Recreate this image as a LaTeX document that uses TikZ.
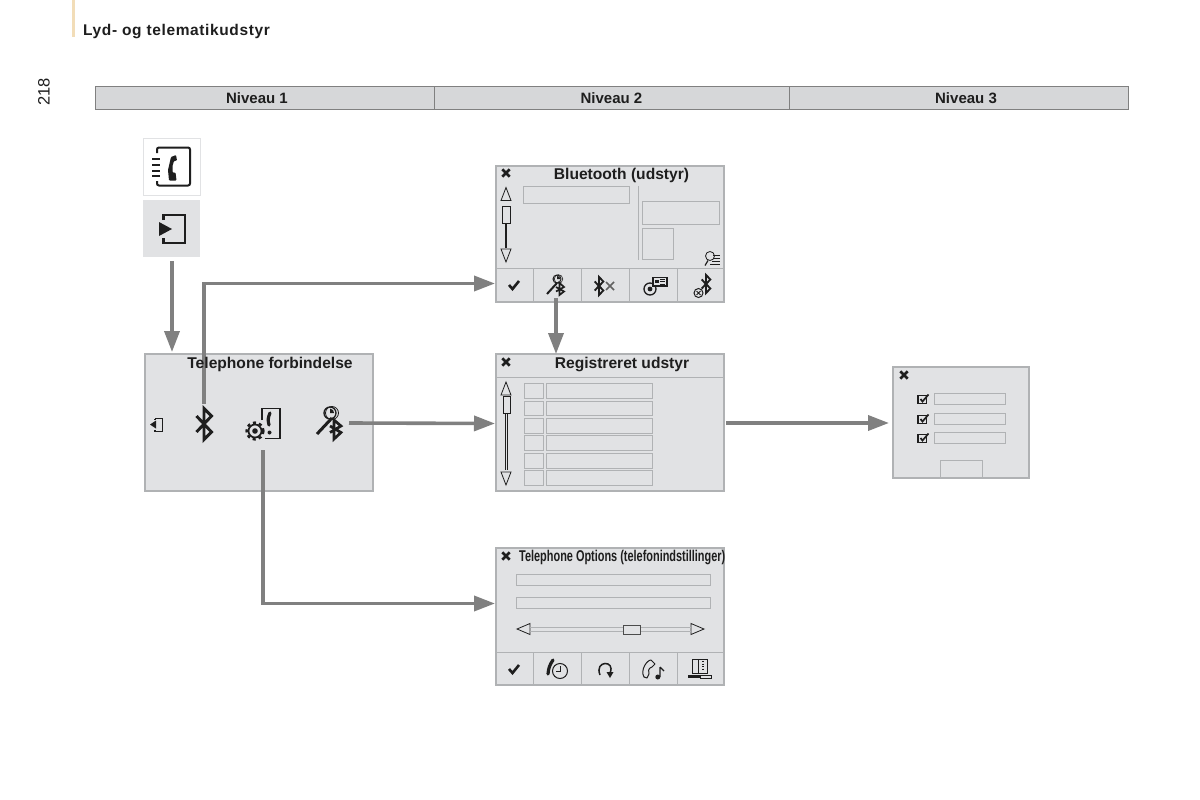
\documentclass[tikz,border=0pt]{standalone}
\usepackage{fontspec}
\usepackage{graphicx}
\setmainfont{Liberation Sans}
\usetikzlibrary{arrows.meta}
\definecolor{panel}{HTML}{E1E2E4}
\definecolor{edge}{HTML}{B0B2B4}
\definecolor{flow}{HTML}{808080}
\definecolor{ink}{HTML}{1E1E1E}
\definecolor{tan}{HTML}{F2DDB8}
\tikzset{
  x=1pt,y=-1pt,
  screen/.style={draw=edge,fill=panel,line width=1.1pt},
  field/.style={draw=edge,line width=1pt},
  thinink/.style={draw=ink,line width=.8pt},
  sep/.style={draw=edge,line width=1pt},
  flowline/.style={draw=flow,line width=3.6pt,-{Triangle[length=21pt,width=15pt]}},
  ttl/.style={font=\bfseries\fontsize{15.6}{18}\selectfont,text=ink,inner sep=0pt,anchor=base},
  hdr/.style={font=\bfseries\fontsize{15}{18}\selectfont,text=ink,inner sep=0pt,anchor=base},
  btrune/.pic={\draw[ink,line width=2.9pt,line join=miter] (-7.5,-8)--(7.5,8)--(0,15.5)--(0,-15.5)--(7.5,-8)--(-7.5,8);},
  smallrune/.pic={\draw[ink,line width=1.9pt,line join=miter] (-4.3,-4.5)--(4.3,4.5)--(0,9)--(0,-9)--(4.3,-4.5)--(-4.3,4.5);},
  closex/.pic={\draw[ink,line width=2.6pt] (-3.7,-3.7)--(3.7,3.7) (-3.7,3.7)--(3.7,-3.7);},
  tick/.pic={\draw[ink,line width=2.6pt] (-5,0)--(-1.5,4)--(5,-4);},
  keybt/.pic={
    \draw[ink,line width=3pt] (-12,11)--(3,-5);
    \draw[ink,line width=1.3pt] (1,-10) circle (6);
    \draw[ink,line width=.8pt] (3,-10) circle (6.5);
    \fill[ink] (1,-10)--(1,-14.5)--(4,-13)--(5,-10)--cycle;
    \draw[ink,line width=2.7pt] (1,3)--(12,9.5)--(5,16)--(5,-3)--(12,3)--(1,9.5);
  },
  smallkey/.pic={
    \draw[ink,line width=2pt] (-9,9)--(1,-2);
    \draw[ink,line width=1pt] (1,-6) circle (4);
    \draw[ink,line width=.6pt] (2.5,-6) circle (4.3);
    \fill[ink] (1,-6)--(1,-9)--(3.5,-8)--(4,-6)--cycle;
    \draw[ink,line width=1.7pt] (0,2)--(8,6.5)--(3.5,10)--(3.5,-2)--(8,2)--(0,6.5);
  },
  upt/.pic={\draw[thinink] (0,-6.5)--(5,6.5)--(-5,6.5)--cycle;},
  downt/.pic={\draw[thinink] (0,6.5)--(5,-6.5)--(-5,-6.5)--cycle;},
  checkbox/.pic={
    \draw[ink,line width=1.5pt] (-5,-3.5)--(-5,4.5)--(3.5,4.5)--(3.5,-3.5)--cycle;
    \draw[ink,line width=1.7pt] (-2.5,0)--(-.5,2.5)--(5.5,-4.5);
  },
  gearbook/.pic={
    \draw[ink,line width=1.7pt] (-8,7) circle (6.5);
    \draw[ink,line width=2.4pt,dash pattern=on 3.1pt off 3.1pt] (-8,7) circle (8.4);
    \fill[ink] (-8,7) circle (2.8);
    \draw[ink,line width=1.8pt] (-1,-4)--(-1,-15.5)--(17,-15.5)--(17,14.5)--(2,14.5);
    \draw[ink,line width=3.2pt,line cap=round] (7,-11) to[bend right=20] (6,1);
    \fill[ink] (6.5,8.5) circle (2);
  },
  tinybook/.pic={
    \draw[ink,line width=1pt] (-7,-8)--(8,-8)--(8,6)--(-7,6)--cycle;
    \draw[ink,line width=1pt] (-1,-8)--(-1,6);
    \draw[ink,line width=1.2pt,dash pattern=on 1pt off 1.5pt] (4,-6)--(4,4);
    \fill[ink] (-11,8) rectangle (1,11);
    \draw[ink,line width=.7pt] (1,8) rectangle (12,11);
  }
}
\begin{document}
\begin{tikzpicture}
\useasboundingbox (0,0) rectangle (1200,800);
\fill[white] (0,0) rectangle (1200,800);
% page furniture
\fill[tan] (72,0) rectangle (74.5,37);
\node[anchor=base west,font=\bfseries\fontsize{15.5}{18}\selectfont,text=ink,inner sep=0pt] (pagetitle) at (83,36) {\addfontfeature{LetterSpace=4}Lyd- og telematikudstyr};
\node[rotate=90,font=\fontsize{16.5}{18}\selectfont,text=ink,inner sep=0pt] (pageno) at (44,92) {218};
% header
\draw[draw=flow,fill=panel!95!black,line width=1pt] (95,87) rectangle (1128,109);
\draw[flow,line width=1pt] (434,87)--(434,109) (789,87)--(789,109);
\node[hdr] (lvla) at (257,103) {Niveau 1};
\node[hdr] (lvlb) at (611.5,103) {Niveau 2};
\node[hdr] (lvlc) at (966,103) {Niveau 3};
% tiles
\node[draw=panel,fill=white,line width=1.5pt,minimum width=57pt,minimum height=57pt,inner sep=0pt] (tilea) at (172,167) {};
\draw[ink,line width=2pt,rounded corners=2pt] (157,153)--(157,147.5)--(190,147.5)--(190,185.5)--(157,185.5)--(157,181);
\draw[ink,line width=2pt] (152,159)--(160,159) (152,165)--(160,165) (152,170.5)--(160,170.5) (152,176)--(160,176);
\fill[ink,rounded corners=.8pt] (176,155)--(171,157)--(168,170)--(169,180.5)--(176.5,180.5)--(175.5,172.5)--(172.5,172.5)--(172.5,166)--(174,161)--(177,160.5)--cycle;
\node[fill=panel,minimum width=57pt,minimum height=57pt,inner sep=0pt] (tileb) at (171.5,228.5) {};
\fill[ink] (159,222)--(159,236)--(172,229)--cycle;
\draw[ink,line width=2.1pt] (163.5,220)--(163.5,215)--(185,215)--(185,243)--(163.5,243)--(163.5,238);
% telephone box
\node[screen,minimum width=228pt,minimum height=137pt,inner sep=0pt] (phonebox) at (259,422.5) {};
\fill[ink] (150,424.5)--(156,420.5)--(156,428.5)--cycle;
\draw[ink,line width=1.2pt] (155,418.5)--(162.5,418.5)--(162.5,431.5)--(155,431.5) (155,418.5)--(155,420) (155,431.5)--(155,430);
\pic at (204,424) {btrune};
\pic at (263,424) {gearbook};
\pic at (329,423) {keybt};
% bluetooth box
\node[screen,minimum width=228pt,minimum height=136pt,inner sep=0pt] (bluebox) at (610,234) {};
\draw[sep] (496,268)--(724,268) (533,268)--(533,302) (581,268)--(581,302) (629,268)--(629,302) (677,268)--(677,302);
\pic at (506,173) {closex};
\node[ttl] (bluettl) at (621.5,179.5) {Bluetooth (udstyr)};
\pic at (506,194) {upt};
\draw[thinink] (502.5,206) rectangle (510,223);
\draw[thinink] (505.2,223)--(505.2,248) (506.8,223)--(506.8,248);
\pic at (506,255.5) {downt};
\draw[field] (523,186.5) rectangle (629,203);
\draw[sep] (638.5,186)--(638.5,260);
\draw[field] (642.5,201) rectangle (719,224);
\draw[field] (642.5,228.5) rectangle (673,259);
\draw[ink,line width=.8pt] (710,256) circle (4.5);
\draw[ink,line width=1.2pt] (708,260.5)--(705,265.5);
\draw[ink,line width=.8pt] (713,255)--(720,255) (714,258)--(720,258) (712,261)--(720,261) (710,264)--(720,264);
\pic at (514,285) {tick};
\pic at (556,285) {smallkey};
\pic at (599,286) {smallrune};
\draw[ink!70,line width=1.6pt] (606,282)--(614,290) (606,290)--(614,282);
\draw[ink,line width=1.3pt] (650,289) circle (6);
\fill[ink] (650,289) circle (2.4);
\draw[ink,line width=1.1pt,fill=panel] (653,277.5) rectangle (667,286);
\draw[ink,line width=.8pt] (660,279.5)--(665,279.5) (660,281.7)--(665,281.7) (660,284)--(665,284);
\fill[ink] (655,279.5) rectangle (658.5,283);
\pic at (706,284) {smallrune};
\draw[ink,line width=1pt,fill=panel] (698.5,293) circle (4.5);
\draw[ink,line width=.8pt] (696.5,291)--(700.5,295) (696.5,295)--(700.5,291);
% registered box
\node[screen,minimum width=228pt,minimum height=137pt,inner sep=0pt] (regbox) at (610,422.5) {};
\draw[sep] (496,377)--(724,377);
\pic at (506,362) {closex};
\node[ttl] (regttl) at (622,368) {Registreret udstyr};
\pic at (506,388.5) {upt};
\draw[thinink] (503,396.5) rectangle (510.5,413);
\draw[thinink] (505.7,413)--(505.7,470) (507.3,413)--(507.3,470);
\pic at (506,478.5) {downt};
\foreach \ya/\yb in {383/398,401/415.5,418/433,435.5/450,453/468,470.5/485}{
  \draw[field] (524.5,\ya) rectangle (543.5,\yb);
  \draw[field] (546.5,\ya) rectangle (652.5,\yb);
}
% options box
\node[screen,minimum width=228pt,minimum height=137pt,inner sep=0pt] (optbox) at (610,616.5) {};
\draw[sep] (496,652)--(724,652) (533,652)--(533,685) (581,652)--(581,685) (629,652)--(629,685) (677,652)--(677,685);
\pic at (506,556) {closex};
\node[ttl,anchor=base west] (optttl) at (519,561.5) {\scalebox{.7}[1]{Telephone Options (telefonindstillinger)}};
\draw[field] (516.5,574) rectangle (710.5,585);
\draw[field] (516.5,597.5) rectangle (710.5,608);
\draw[thinink] (517,629)--(530,623.5)--(530,634.5)--cycle;
\draw[thinink] (704,629)--(691,623.5)--(691,634.5)--cycle;
\draw[field] (530,627)--(691,627) (530,631)--(691,631);
\draw[draw=ink!80,fill=panel,line width=.9pt] (623.5,625) rectangle (640.5,634);
\pic at (514,669) {tick};
\draw[ink,line width=3.2pt,line cap=round] (553,660) to[bend right=15] (548,674);
\draw[ink,line width=1pt] (560,671) circle (7.5);
\draw[ink,line width=.8pt] (560,666)--(560,671.5)--(556,671.5);
\draw[ink,line width=1.5pt] (600,675) .. controls (594,660) and (616,660) .. (610,673);
\fill[ink] (606.5,672)--(613.5,672)--(610,678)--cycle;
\draw[ink,line width=1pt,line join=round] (644,677) .. controls (640,670) and (647,660) .. (651,660) -- (655,664) -- (652,667) .. controls (648,668) and (648,672) .. (649,674) -- (647,678) -- cycle;
\draw[ink,line width=1.2pt] (660,667)--(660,677) (660,667)--(664,671);
\fill[ink] (657.8,677) circle (2.5);
\pic at (699,667) {tinybook};
% dialog box
\node[screen,minimum width=136pt,minimum height=111pt,inner sep=0pt] (dlgbox) at (961,422.5) {};
\pic at (904,375) {closex};
\foreach \yy/\yc in {393/399,413/419,432/438}{
  \pic at (923,\yc) {checkbox};
  \draw[field] (934,\yy) rectangle (1005.5,\yy+11);
}
\draw[field] (940.5,478) |- (982,460.5) -- (982,478);
% connector ends
\coordinate (btstart) at (204,404);
\coordinate (bluein) at (495,283.5);
\coordinate (keystart) at (349,423);
\coordinate (regin) at (495,423.5);
\coordinate (gearstart) at (263,450);
\coordinate (optin) at (495,603.5);
\coordinate (regout) at (726,423);
\coordinate (dlgin) at (889,423);
\coordinate (keydown) at (556,298);
\coordinate (regtop) at (556,354);
\coordinate (tileout) at (172,261);
\coordinate (phonetop) at (172,352);
\draw[flowline] (tileout)--(phonetop);
\draw[flowline] (btstart) |- (bluein);
\draw[flowline] (keystart)--(regin);
\draw[flowline] (gearstart) |- (optin);
\draw[flowline] (regout)--(dlgin);
\draw[flowline] (keydown)--(regtop);
\node[ttl] (phonettl) at (270,368) {Telephone forbindelse};
\end{tikzpicture}
\end{document}
